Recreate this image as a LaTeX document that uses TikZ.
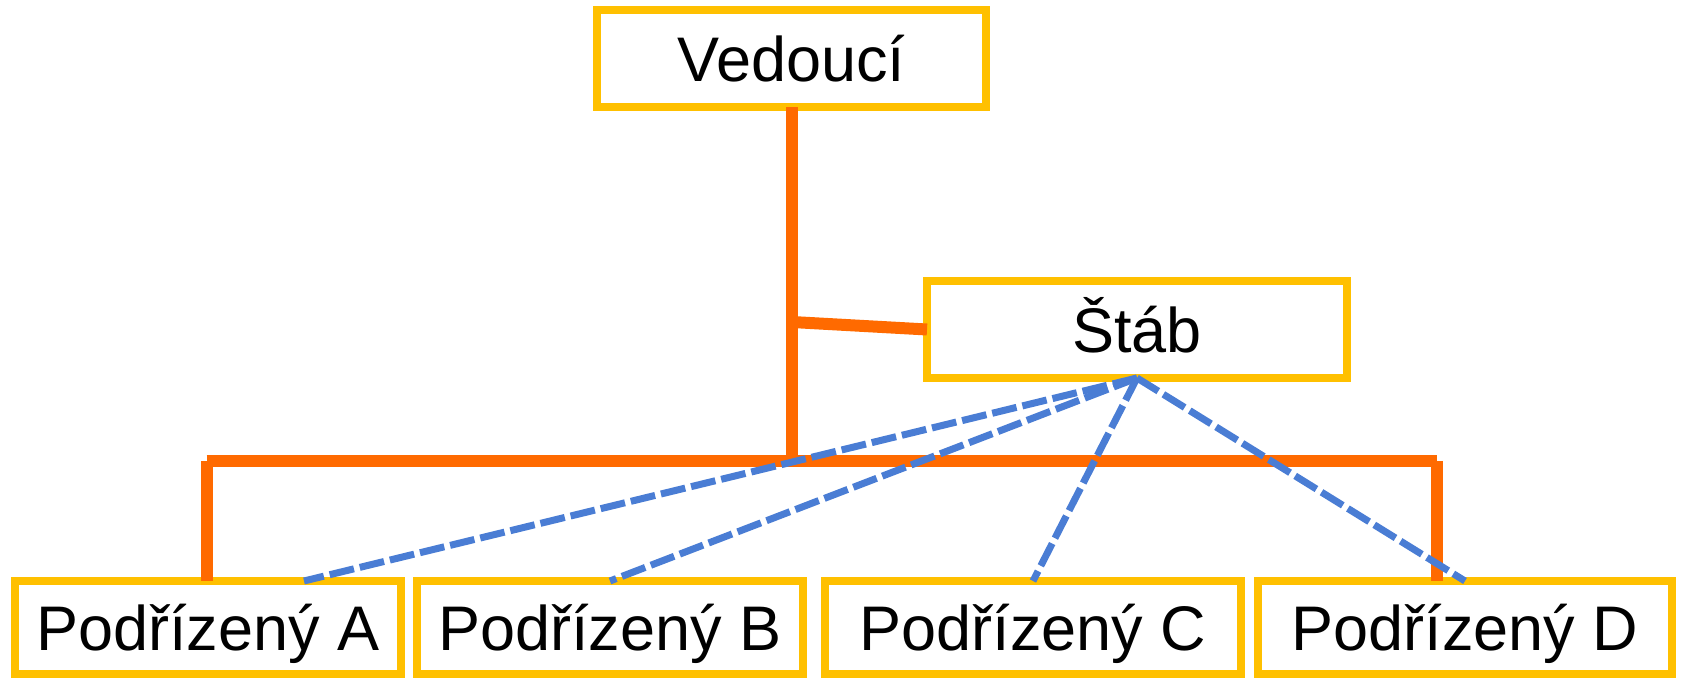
\documentclass[tikz,border=0pt]{standalone}
\usepackage{fontspec}
\setmainfont{Liberation Sans}
\usetikzlibrary{calc}

\definecolor{boxyellow}{HTML}{FFC000}
\definecolor{lineorange}{HTML}{FF6A00}
\definecolor{staffblue}{HTML}{4A7DD4}

\tikzset{
  orgbox/.style={draw=boxyellow, line width=4pt, inner sep=0pt, outer sep=0pt,
    font=\fontsize{31.5}{36}\selectfont, text height=23pt, text depth=0pt},
  lineline/.style={draw=lineorange, line width=6pt},
  staffline/.style={draw=staffblue, line width=3.5pt, dash pattern=on 12.5pt off 3pt}
}

\begin{document}
\begin{tikzpicture}[x=0.5pt, y=-0.5pt]
  \useasboundingbox (0,0) rectangle (1683,678);

  % boxes
  \node[orgbox, minimum width=194.5pt, minimum height=48.5pt] (lead) at (791.5,59) {Vedoucí};
  \node[orgbox, minimum width=210pt, minimum height=48.5pt] (stab) at (1137,329.5) {Štáb};
  \node[orgbox, minimum width=193pt, minimum height=46.5pt] (subA) at (208,627.5) {Podřízený A};
  \node[orgbox, minimum width=193pt, minimum height=46.5pt] (subB) at (610,627.5) {Podřízený B};
  \node[orgbox, minimum width=208pt, minimum height=46.5pt] (subC) at (1033,627.5) {Podřízený C};
  \node[orgbox, minimum width=207pt, minimum height=46.5pt] (subD) at (1465,627.5) {Podřízený D};

  % line organisation
  \coordinate (barL) at (206.7,461);
  \coordinate (barR) at (1437,461);
  \coordinate (branch) at (792,322);
  \draw[lineline] (lead.south) -- (lead.south |- barL);
  \draw[lineline] (branch) -- (stab.west);
  \draw[lineline] (barL) -- (barR);
  \draw[lineline] (barL) -- (barL |- subA.north);
  \draw[lineline] (barR) -- (barR |- subD.north);

  % staff links
  \draw[staffline] (stab.south) -- ($(subA.north)+(96,0)$);
  \draw[staffline] (stab.south) -- (subB.north);
  \draw[staffline] (stab.south) -- (subC.north);
  \draw[staffline] (stab.south) -- (subD.north);
\end{tikzpicture}
\end{document}
